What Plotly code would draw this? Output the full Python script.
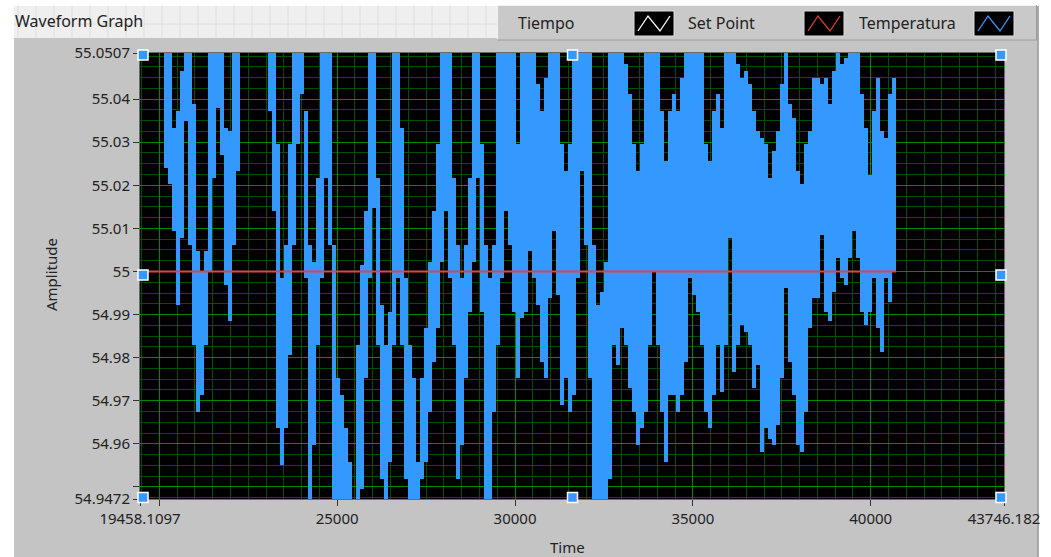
import plotly.graph_objects as go

# ---------------- data ----------------
# Temperatura: waveform sampled every dt starting at t0; per sample the
# displayed max/min of the dense trace (None = nothing drawn)
t0 = 20189.0
dt = 112.44
temp_hi = [
    55.051, 55.051, 55.0333, 55.0372, 55.0465, 55.051, 55.051, 55.0388, 55.0047, 55.0000,
    55.0047, 55.051, 55.051, 55.051, 55.051, 55.0333, 55.0326, 55.051, 55.051, None,
    None, None, None, None, None, None, 55.051, 55.051, 55.0295, 54.9984,
    55.0062, 55.0295, 55.051, 55.051, 55.051, 55.0372, 55.0062, 55.0023, 55.0217, 55.051,
    55.051, 55.051, 55.0062, 54.9752, 54.9713, 54.9636, 54.9558, None, 54.9829, 55.0016,
    55.0140, 55.051, 55.051, 55.0217, 54.9922, 54.9829, 54.9907, 55.051, 55.051, 55.0333,
    54.9984, 54.9829, 54.9752, 54.9558, 54.9752, 54.9868, 55.0023, 55.0140, 55.0295, 55.051,
    55.051, 55.051, 55.0217, 55.0062, 54.9984, 55.0062, 55.0217, 55.051, 55.051, 55.0295,
    55.0062, 54.9984, 55.0062, 55.051, 55.051, 55.051, 55.051, 55.051, 55.0295, 55.051,
    55.051, 55.051, 55.051, 55.0434, 55.0372, 55.0450, 55.051, 55.051, 55.051, 55.0295,
    55.0233, 55.0295, 55.051, 55.051, 55.051, 55.051, 55.051, 55.0062, 54.9922, 54.9953,
    55.0023, 55.051, 55.051, 55.051, 55.051, 55.0481, 55.0411, 55.0295, 55.0233, 55.0295,
    55.051, 55.051, 55.051, 55.051, 55.0372, 55.0256, 55.0372, 55.0411, 55.0372, 55.0450,
    55.051, 55.051, 55.051, 55.051, 55.051, 55.0295, 55.0256, 55.0372, 55.0411, 55.0333,
    55.051, 55.051, 55.051, 55.0481, 55.0450, 55.0465, 55.0434, 55.0372, 55.0326, 55.0310,
    55.0295, 55.0217, 55.0279, 55.0326, 55.0434, 55.051, 55.0388, 55.0357, 55.0233, 55.0202,
    55.0295, 55.0326, 55.0450, 55.0450, 55.0434, 55.0450, 55.0388, 55.0465, 55.051, 55.0481,
    55.0496, 55.051, 55.051, 55.051, 55.0411, 55.0333, 55.0225, 55.0372, 55.0450, 55.0326,
    55.0310, 55.0411, 55.0450,
]
temp_lo = [
    55.0240, 55.0202, 55.0093, 54.9922, 55.0078, 55.0349, 55.0062, 54.9829, 54.9674, 54.9713,
    54.9829, 55.0000, 55.0217, 55.0380, 55.0271, 54.9969, 54.9884, 55.0062, 55.0233, None,
    None, None, None, None, None, None, 55.0372, 55.0140, 54.9636, 54.9550,
    54.9636, 54.9806, 55.0062, 55.0295, 55.0411, 54.9984, 54.946, 54.9597, 54.9829, 54.9984,
    55.0217, 55.0062, 54.946, 54.946, 54.946, 54.946, 54.946, None, 54.946, 54.9496,
    54.9752, 54.9984, 55.0147, 54.9829, 54.9519, 54.946, 54.9558, 54.9829, 54.9984, 54.9829,
    54.9519, 54.946, 54.946, 54.946, 54.9519, 54.9558, 54.9674, 54.9791, 54.9868, 55.0023,
    55.0140, 54.9984, 54.9829, 54.9519, 54.9597, 54.9752, 54.9907, 55.0023, 55.0217, 54.9907,
    54.946, 54.946, 54.9674, 54.9829, 54.9984, 55.0140, 55.0062, 54.9907, 54.9752, 54.9891,
    54.9907, 55.0047, 54.9984, 54.9922, 54.9791, 54.9752, 54.9938, 55.0093, 54.9946, 54.9690,
    54.9752, 54.9674, 54.9713, 54.9984, 55.0233, 55.0062, 54.9752, 54.946, 54.946, 54.946,
    54.946, 54.9519, 54.9829, 54.9783, 54.9868, 54.9829, 54.9729, 54.9674, 54.9597, 54.9636,
    54.9674, 54.9829, 55.0000, 54.9829, 54.9674, 54.9558, 54.9713, 54.9713, 54.9674, 54.9713,
    54.9791, 54.9984, 54.9946, 54.9907, 54.9829, 54.9674, 54.9636, 54.9713, 54.9829, 54.9721,
    54.9829, 55.0078, 54.9767, 54.9829, 54.9876, 54.9860, 54.9829, 54.9729, 54.9783, 54.9581,
    54.9636, 54.9612, 54.9597, 54.9643, 54.9752, 54.9961, 54.9791, 54.9713, 54.9597, 54.9581,
    54.9674, 54.9868, 54.9938, 54.9938, 55.0085, 54.9907, 54.9884, 54.9953, 55.0031, 54.9984,
    54.9969, 55.0031, 55.0093, 55.0031, 54.9907, 54.9876, 54.9907, 54.9984, 54.9868, 54.9814,
    54.9984, 54.9930, 55.0000,
]

setpoint_time = [19458.1097, 40710.0]
setpoint_value = [55.0, 55.0]

x_range = [19458.1097, 43746.182]
y_range = [54.9472, 55.0507]
x_tickvals = [19458.1097, 20000, 25000, 30000, 35000, 40000, 43746.182]
x_ticktext = ["19458.1097", "", "25000", "30000", "35000", "40000", "43746.182"]
y_tickvals = [54.9472, 54.95, 54.96, 54.97, 54.98, 54.99, 55.0, 55.01, 55.02, 55.03, 55.04, 55.0507]
y_ticktext = ["54.9472", "", "54.96", "54.97", "54.98", "54.99", "55", "55.01", "55.02", "55.03", "55.04", "55.0507"]

legend_names = ["Tiempo", "Set Point", "Temperatura"]
legend_colors = ["#ffffff", "#e03c3c", "#3399ff"]

# ---------------- figure ----------------
W, H = 1051, 557
L, R, T, B = 140, 1004, 53, 499   # plot area in pixels


def px(x):
    return (x - L) / (R - L)


def py(y):
    return (B - y) / (B - T)


bar_x, bar_base, bar_len = [], [], []
for i, (hi, lo) in enumerate(zip(temp_hi, temp_lo)):
    if hi is None or lo is None:
        continue
    bar_x.append(t0 + i * dt)
    bar_base.append(lo)
    bar_len.append(hi - lo)

FONT = "Segoe UI, Noto Sans, Open Sans, sans-serif"
BLUE = "#3399ff"

fig = go.Figure()
fig.add_trace(go.Bar(
    x=bar_x, y=bar_len, base=bar_base, width=dt * 1.02,
    marker=dict(color=BLUE, line=dict(width=0)),
    name="Temperatura", showlegend=False, hoverinfo="skip",
))
fig.add_trace(go.Scatter(
    x=setpoint_time, y=setpoint_value, mode="lines",
    line=dict(color="#d94848", width=2), name="Set Point", showlegend=False,
))

shapes = []
annotations = []


def rect(x0, y0, x1, y1, fill, line=None, lw=0, layer="below"):
    shapes.append(dict(type="rect", xref="paper", yref="paper",
                       x0=px(x0), x1=px(x1), y0=py(y1), y1=py(y0),
                       fillcolor=fill, line=dict(color=line or fill, width=lw), layer=layer))


def hline(x0, x1, y, color, w=1, layer="below"):
    shapes.append(dict(type="line", xref="paper", yref="paper",
                       x0=px(x0), x1=px(x1), y0=py(y), y1=py(y),
                       line=dict(color=color, width=w), layer=layer))


def vline(x, y0, y1, color, w=1, layer="below"):
    shapes.append(dict(type="line", xref="paper", yref="paper",
                       x0=px(x), x1=px(x), y0=py(y0), y1=py(y1),
                       line=dict(color=color, width=w), layer=layer))


# white surroundings
rect(0, 0, 14, H, "#ffffff")
rect(14, 0, W, 6, "#ffffff")
rect(1039, 0, W, H, "#ffffff")
vline(1038, 6, H, "#a8a8a8", 2)
# front-panel grid behind the label
rect(14, 6, 497, 38, "#efefef")
for gx in range(18, 497, 18):
    vline(gx, 6, 38, "#dedede")
hline(14, 497, 24, "#dedede")
# legend box
rect(497, 5, 1037, 40, "#c9c9c9")
hline(497, 1037, 5.5, "#f2f2f2")
vline(497.5, 5, 40, "#f2f2f2")
hline(497, 1037, 40, "#9c9c9c")
vline(1036.5, 5, 40, "#9c9c9c")

annotations.append(dict(text="Waveform Graph", xref="paper", yref="paper",
                        x=px(13), y=py(21), xanchor="left", yanchor="middle",
                        showarrow=False, font=dict(family=FONT, size=16, color="#222222")))

leg_text_x = [516, 686, 857]
leg_icon_x = [634, 804, 974]
for name, col, tx, ix in zip(legend_names, legend_colors, leg_text_x, leg_icon_x):
    annotations.append(dict(text=name, xref="paper", yref="paper", x=px(tx), y=py(23),
                            xanchor="left", yanchor="middle", showarrow=False,
                            font=dict(family=FONT, size=16, color="#222222")))
    rect(ix, 11, ix + 40, 36, "#000000", "#dcdcdc", 1, layer="above")
    path = "M {} {} L {} {} L {} {} L {} {}".format(
        px(ix + 4), py(31), px(ix + 14), py(16), px(ix + 26), py(31), px(ix + 36), py(16))
    shapes.append(dict(type="path", xref="paper", yref="paper", path=path,
                       line=dict(color=col, width=1.3), layer="above"))

# axis titles
annotations.append(dict(text="Amplitude", xref="paper", yref="paper", x=px(51), y=py(275),
                        xanchor="center", yanchor="middle", textangle=-90, showarrow=False,
                        font=dict(family=FONT, size=15, color="#222222")))
annotations.append(dict(text="Time", xref="paper", yref="paper", x=px(567), y=py(547),
                        xanchor="center", yanchor="middle", showarrow=False,
                        font=dict(family=FONT, size=15, color="#222222")))

# cursor handles
for cx, cy in [(143, 55), (572.5, 55), (1001, 55), (143, 275), (1001, 275),
               (143, 497.5), (572.5, 497.5), (1001, 497.5)]:
    rect(cx - 5, cy - 5, cx + 5, cy + 5, BLUE, "#ffffff", 1.5, layer="above")

MAJOR = "#008a00"
MINOR = "#004f00"

fig.update_layout(
    width=W, height=H,
    margin=dict(l=L, r=W - R, t=T, b=H - B, pad=0),
    paper_bgcolor="#c4c4c4", plot_bgcolor="#000000",
    showlegend=False, bargap=0,
    shapes=shapes, annotations=annotations,
    font=dict(family=FONT, size=15, color="#222222"),
    xaxis=dict(range=x_range, tickmode="array", tickvals=x_tickvals, ticktext=x_ticktext,
               ticks="outside", ticklen=6, tickwidth=1, tickcolor="#333333",
               showgrid=True, gridcolor=MAJOR, gridwidth=1, zeroline=False,
               showline=True, linecolor="#6a6a6a", linewidth=1, mirror=True,
               tickfont=dict(family=FONT, size=15, color="#222222"),
               minor=dict(tick0=20000, dtick=500, showgrid=True, gridcolor=MINOR, gridwidth=1, ticks="")),
    yaxis=dict(range=y_range, tickmode="array", tickvals=y_tickvals, ticktext=y_ticktext,
               ticks="outside", ticklen=6, tickwidth=1, tickcolor="#333333",
               showgrid=True, gridcolor=MAJOR, gridwidth=1, zeroline=False,
               showline=True, linecolor="#6a6a6a", linewidth=1, mirror=True,
               tickfont=dict(family=FONT, size=15, color="#222222"),
               minor=dict(tick0=55, dtick=0.0025, showgrid=True, gridcolor=MINOR, gridwidth=1, ticks="")),
)

fig.write_html("out.html", config=dict(displayModeBar=False),
               post_script="document.body.style.margin='0';document.body.style.padding='0';")
